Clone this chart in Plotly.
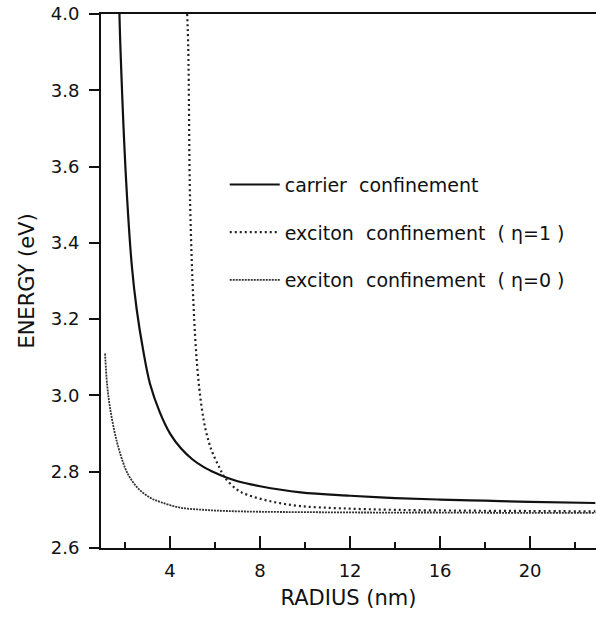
import plotly.graph_objects as go

# Confinement energy vs. crystallite radius
carrier_r = [1.75, 1.80, 2.04, 2.30, 2.52, 2.80, 3.11, 3.55, 4.00, 4.50, 5.00, 5.50, 6.00, 6.44, 7.00, 8.0, 9.8, 12.0, 14.0, 16.0, 18.0, 20.0, 22.9]
carrier_e = [4.00, 3.90, 3.57, 3.34, 3.224, 3.12, 3.03, 2.955, 2.90, 2.86, 2.832, 2.812, 2.797, 2.786, 2.775, 2.762, 2.746, 2.737, 2.731, 2.727, 2.724, 2.721, 2.718]

exc1_r = [4.76, 4.81, 4.89, 5.04, 5.20, 5.40, 5.60, 5.85, 6.20, 6.44, 7.00, 7.41, 8.5, 9.78, 11.6, 14.0, 17.0, 20.0, 22.9]
exc1_e = [4.00, 3.905, 3.505, 3.24, 3.08, 2.97, 2.905, 2.855, 2.81, 2.784, 2.752, 2.740, 2.722, 2.71, 2.704, 2.700, 2.698, 2.697, 2.696]

exc0_r = [1.11, 1.20, 1.33, 1.63, 2.00, 2.22, 2.60, 3.11, 3.60, 4.44, 5.50, 6.50, 8.0, 10.0, 13.0, 16.0, 20.0, 22.9]
exc0_e = [3.11, 3.03, 2.968, 2.88, 2.81, 2.784, 2.755, 2.732, 2.72, 2.706, 2.700, 2.697, 2.695, 2.694, 2.693, 2.693, 2.692, 2.692]

names = ["carrier  confinement", "exciton  confinement  ( η=1 )", "exciton  confinement  ( η=0 )"]

FONT = "DejaVu Sans, Arial, sans-serif"

fig = go.Figure()
fig.add_trace(go.Scatter(x=carrier_r, y=carrier_e, mode="lines", name=names[0], legendgroup="a",
                         line=dict(color="#111", width=2.2, shape="spline", smoothing=1.0)))
fig.add_trace(go.Scatter(x=exc1_r, y=exc1_e, mode="lines", name=names[1], legendgroup="b",
                         line=dict(color="#222", width=2.2, dash="2px,3px", shape="spline", smoothing=1.0)))
fig.add_trace(go.Scatter(x=exc0_r, y=exc0_e, mode="lines", name=names[2], legendgroup="c",
                         line=dict(color="#333", width=1.8, dash="2px,1px", shape="spline", smoothing=1.0)))

fig.update_layout(
    width=596, height=624,
    margin=dict(l=101, r=0, t=14, b=76),
    paper_bgcolor="white", plot_bgcolor="white",
    font=dict(family=FONT, size=18, color="#111"),
    showlegend=True,
    legend=dict(x=0.25, y=0.716, xanchor="left", yanchor="top",
                bgcolor="rgba(0,0,0,0)", borderwidth=0,
                font=dict(family=FONT, size=19, color="#111"),
                tracegroupgap=20, itemwidth=50),
    xaxis=dict(range=[0.93, 22.93], tickmode="array", tickvals=[4, 8, 12, 16, 20],
               ticks="inside", ticklen=12, tickwidth=1.5, tickcolor="#111",
               tickfont=dict(family=FONT, size=18),
               minor=dict(tickvals=[2, 6, 10, 14, 18, 22], ticks="inside", ticklen=6, tickwidth=1.5, tickcolor="#111"),
               showline=True, linecolor="#111", linewidth=2, mirror=True,
               showgrid=False, zeroline=False, ticklabelstandoff=5,
               title=dict(text="RADIUS (nm)", font=dict(family=FONT, size=21), standoff=11)),
    yaxis=dict(range=[2.6, 4.0], tickmode="array", tickvals=[2.6, 2.8, 3.0, 3.2, 3.4, 3.6, 3.8, 4.0],
               ticktext=["2.6", "2.8", "3.0", "3.2", "3.4", "3.6", "3.8", "4.0"],
               ticks="outside", ticklen=10, tickwidth=1.5, tickcolor="#111",
               tickfont=dict(family=FONT, size=18),
               showline=True, linecolor="#111", linewidth=2,
               showgrid=False, zeroline=False, ticklabelstandoff=6,
               title=dict(text="ENERGY (eV)", font=dict(family=FONT, size=21), standoff=10)),
)

fig.write_html("out.html")
